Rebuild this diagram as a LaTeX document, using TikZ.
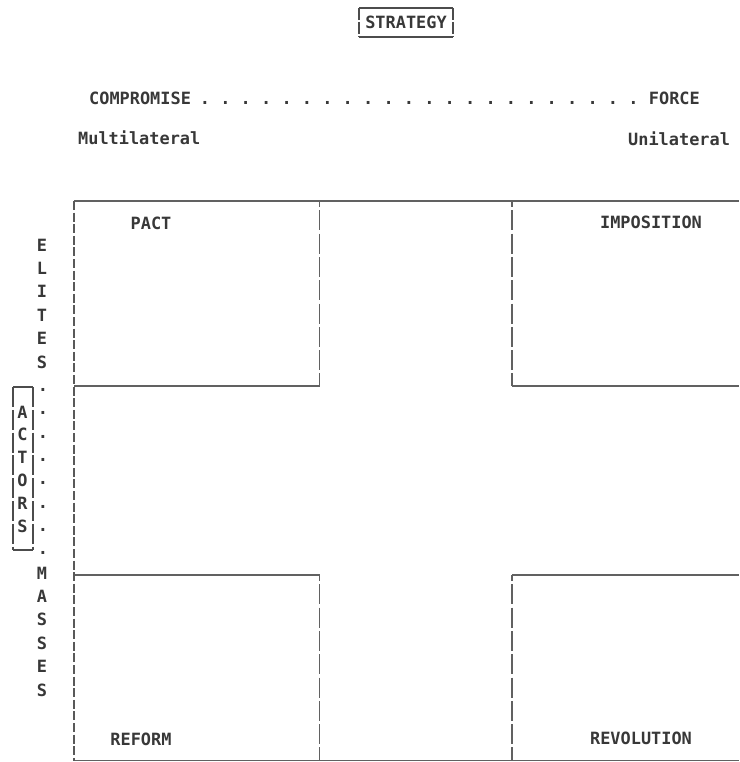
\documentclass[tikz,border=0pt]{standalone}
\usepackage{fontspec}
\newfontfamily\tw{DejaVu Sans Mono}
\begin{document}
\begin{tikzpicture}[x=1pt,y=-1pt,
  txt/.style={font=\tw\bfseries\fontsize{16.9}{20}\selectfont, inner sep=0pt, text=black!78},
  rule/.style={line width=1.8pt, draw=black!62},
  pipe/.style={rule, line width=1.5pt, dash pattern=on 20pt off 3.3pt, dash phase=14pt},
  thinpipe/.style={line width=1.5pt, draw=black!65, dash pattern=on 9pt off 2.6pt},
  boxline/.style={line width=1.3pt, draw=black!70}]
\useasboundingbox (0,0) rectangle (739,762);
% title box
\node[txt] (strategy) at (406,22) {STRATEGY};
\draw[boxline] (359,8) -- (453,8);
\draw[boxline] (359,37) -- (453,37);
\draw[boxline, dash pattern=on 12pt off 2pt] (359,8) -- (359,37);
\draw[boxline, dash pattern=on 12pt off 2pt] (453,8) -- (453,37);
% strategy scale
\node[txt, anchor=west] (compromise) at (89,98) {COMPROMISE};
\node[txt, anchor=east] (force) at (700,98) {FORCE};
\foreach \k in {0,...,21} {
  \node[txt] (sd\k) at ({205+20.4*\k},103) {.};
}
\node[txt, anchor=west] (multi) at (78,138) {Multilateral};
\node[txt, anchor=west] (uni) at (628,139) {Unilateral};
% frame coordinates
\coordinate (tl) at (74,201);
\coordinate (tr) at (739,201);
\coordinate (bl) at (74,760.5);
\coordinate (br) at (739,760.5);
\coordinate (a1) at (319.5,201);
\coordinate (a2) at (319.5,386);
\coordinate (a3) at (74,386);
\coordinate (b1) at (512,201);
\coordinate (b2) at (512,386);
\coordinate (b3) at (739,386);
\coordinate (c1) at (74,575);
\coordinate (c2) at (319.5,575);
\coordinate (c3) at (319.5,760.5);
\coordinate (d1) at (739,575);
\coordinate (d2) at (512,575);
\coordinate (d3) at (512,760.5);
% horizontal rules
\draw[rule] (tl) -- (tr);
\draw[rule] (bl) -- (br);
\draw[rule] (a3) -- (a2);
\draw[rule] (b2) -- (b3);
\draw[rule] (c1) -- (c2);
\draw[rule] (d2) -- (d1);
% vertical pipes
\draw[thinpipe] (tl) -- (bl);
\draw[pipe] (a1) -- (a2);
\draw[pipe] (b1) -- (b2);
\draw[pipe] (c2) -- (c3);
\draw[pipe] (d2) -- (d3);
% quadrant labels
\node[txt] (pact) at (151,223) {PACT};
\node[txt] (imposition) at (651,222) {IMPOSITION};
\node[txt] (reform) at (141,739) {REFORM};
\node[txt] (revolution) at (641,738) {REVOLUTION};
% actors axis
\foreach \c [count=\i from 0] in {E,L,I,T,E,S} {
  \node[txt] (el\i) at (42,{245+23.4*\i}) {\c};
}
\foreach \k in {0,...,7} {
  \node[txt] (vd\k) at (43,{390+23.3*\k}) {.};
}
\foreach \c [count=\i from 0] in {M,A,S,S,E,S} {
  \node[txt] (ma\i) at (42,{573+23.4*\i}) {\c};
}
\foreach \c [count=\i from 0] in {A,C,T,O,R,S} {
  \node[txt] (ac\i) at (22.5,{412+22.8*\i}) {\c};
}
\draw[boxline] (13,387) -- (33,387);
\draw[boxline] (13,550) -- (33,550);
\draw[boxline, dash pattern=on 20pt off 2.8pt] (13,387) -- (13,550);
\draw[boxline, dash pattern=on 20pt off 2.8pt] (33,387) -- (33,550);
\end{tikzpicture}
\end{document}
